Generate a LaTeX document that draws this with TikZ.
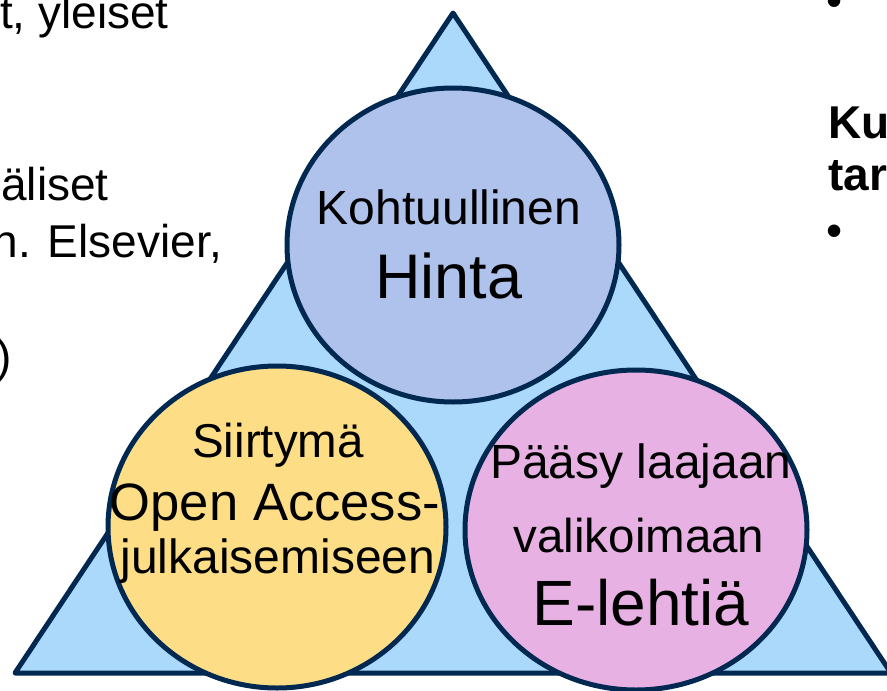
\documentclass[tikz,border=0pt]{standalone}
\usepackage{fontspec}
\setmainfont{Liberation Sans}
\definecolor{edge}{HTML}{002850}
\definecolor{tri}{HTML}{ABD9FB}
\definecolor{topc}{HTML}{AFC2EB}
\definecolor{leftc}{HTML}{FDDE87}
\definecolor{rightc}{HTML}{E8B1E3}
\tikzset{
  shapeline/.style={draw=edge, line width=5pt, line join=round},
  bg/.style={font=\fontsize{46}{50}\selectfont, inner sep=0pt},
  bgb/.style={font=\fontsize{46}{50}\selectfont\bfseries, inner sep=0pt},
  lab/.style={anchor=base, inner sep=0pt},
}
\begin{document}
\begin{tikzpicture}[x=1pt,y=-1pt]
\useasboundingbox (0,0) rectangle (887,691);
\clip (0,0) rectangle (887,691);
% background text (cut off)
\node[bg, anchor=base east] (t1) at (169,28) {t, yleiset};
\node[bg, anchor=base east] (t2) at (109,200) {äliset};
\node[bg, anchor=base east] (t3) at (222,257) {n. Elsevier,};
\node[bg, anchor=base east] (t4) at (12,372) {)};
\node[bg, anchor=base west] (r1) at (826,16) {•};
\node[bgb, anchor=base west] (r2) at (828,138) {Ku};
\node[bgb, anchor=base west] (r3) at (828,190) {tar};
\node[bg, anchor=base west] (r4) at (826,246) {•};
% triangle
\draw[shapeline, fill=tri] (453,13) -- (891,673) -- (15,673) -- cycle;
% ellipses
\draw[shapeline, fill=topc] (453,245) ellipse [x radius=166, y radius=157];
\draw[shapeline, fill=leftc] (277,527) ellipse [x radius=169, y radius=161];
\draw[shapeline, fill=rightc] (636,530) ellipse [x radius=171, y radius=160];
% labels
\node[lab, font=\fontsize{48}{52}\selectfont] (a1) at (449,224) {Kohtuullinen};
\node[lab, font=\fontsize{63}{68}\selectfont] (a2) at (449,298) {Hinta};
\node[lab, font=\fontsize{47.5}{52}\selectfont] (b1) at (278,457) {Siirtymä};
\node[lab, font=\fontsize{52.6}{58}\selectfont] (b2) at (275,520) {Open Access-};
\node[lab, font=\fontsize{48}{52}\selectfont] (b3) at (278,573) {julkaisemiseen};
\node[lab, font=\fontsize{48}{52}\selectfont] (c1) at (641,478) {Pääsy laajaan};
\node[lab, font=\fontsize{47.5}{52}\selectfont] (c2) at (639,552) {valikoimaan};
\node[lab, font=\fontsize{64}{68}\selectfont] (c3) at (641,625) {E-lehtiä};
\end{tikzpicture}
\end{document}
